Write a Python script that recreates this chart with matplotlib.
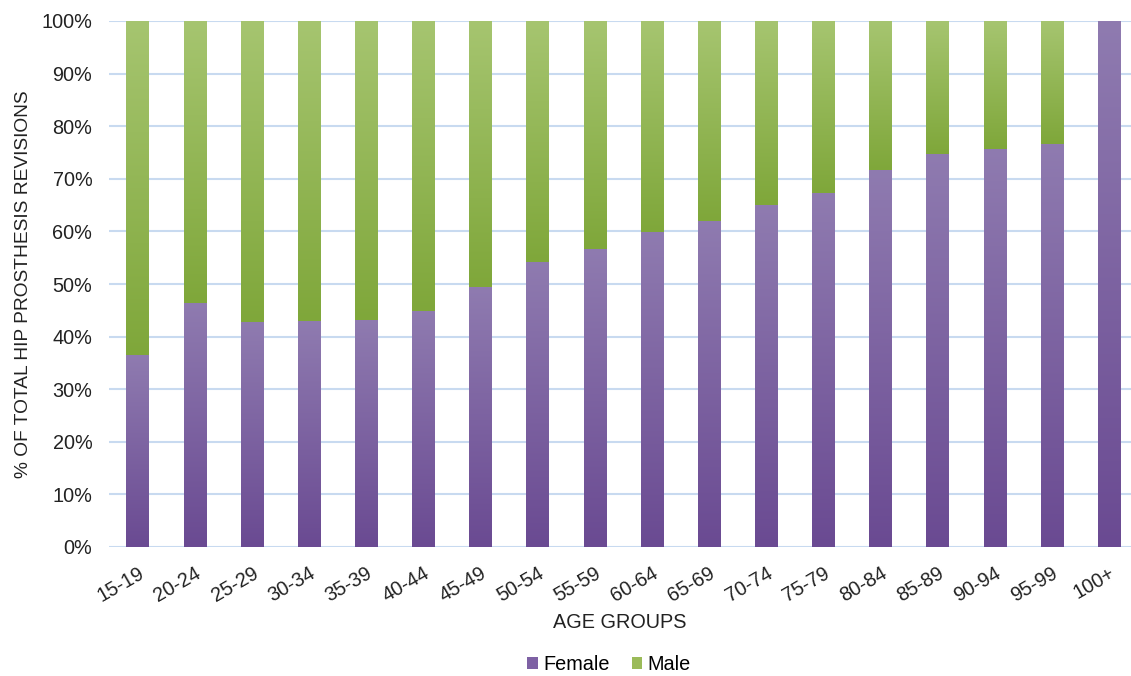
import matplotlib
matplotlib.use('Agg')
import matplotlib.pyplot as plt
import numpy as np
from matplotlib.colors import LinearSegmentedColormap
from matplotlib.patches import Patch

plt.rcParams['font.family'] = ['Liberation Sans', 'DejaVu Sans']

age_groups = ["15-19", "20-24", "25-29", "30-34", "35-39", "40-44", "45-49", "50-54",
              "55-59", "60-64", "65-69", "70-74", "75-79", "80-84", "85-89", "90-94",
              "95-99", "100+"]
female = [36.5, 46.4, 42.7, 42.9, 43.2, 44.9, 49.4, 54.2, 56.7, 59.9, 62.0, 65.0,
          67.3, 71.7, 74.8, 75.7, 76.6, 100.0]
male = [100 - f for f in female]

fig = plt.figure(figsize=(11.31, 6.76), dpi=100)
ax = fig.add_axes([109 / 1131, 1 - 547 / 676, 1028.5 / 1131, 526 / 676])

x = np.arange(len(age_groups))
width = 0.39

purple_cmap = LinearSegmentedColormap.from_list('fem', ['#6a4a92', '#8f7bb0'])
green_cmap = LinearSegmentedColormap.from_list('mal', ['#7fa73a', '#a6c570'])
grad = np.linspace(0, 1, 256).reshape(-1, 1)


def gradient_bars(bars, cmap):
    for b in bars:
        h = b.get_height()
        if h <= 0:
            continue
        b.set_facecolor('none')
        b.set_edgecolor('none')
        x0, y0 = b.get_x(), b.get_y()
        im = ax.imshow(grad, cmap=cmap, origin='lower', aspect='auto',
                       extent=(x0, x0 + b.get_width(), y0, y0 + h), zorder=3)
        im.set_clip_path(b)


fb = ax.bar(x, female, width, label='Female', zorder=3)
mb = ax.bar(x, male, width, bottom=female, label='Male', zorder=3)
gradient_bars(fb, purple_cmap)
gradient_bars(mb, green_cmap)

fs = 14.3
ax.set_xlim(-0.5, len(age_groups) - 0.5)
ax.set_ylim(0, 100)
ax.set_yticks(np.arange(0, 101, 10))
ax.set_yticklabels([f'{v}%' for v in range(0, 101, 10)], fontsize=fs, color='#222222')
ax.set_xticks(x)
ax.set_xticklabels(age_groups, rotation=30, ha='right', rotation_mode='anchor',
                   fontsize=fs, color='#222222')
ax.tick_params(axis='y', length=0, pad=12)
ax.tick_params(axis='x', length=0, pad=12)

ax.grid(axis='y', color='#c8daf0', linewidth=1.5, zorder=0)
ax.set_axisbelow(True)
for s in ax.spines.values():
    s.set_visible(False)

ax.set_ylabel('% OF TOTAL HIP PROSTHESIS REVISIONS', fontsize=13.8, color='#222222')
ax.yaxis.set_label_coords(-0.075, 0.5)
fig.text(620 / 1131, 1 - 622 / 676, 'AGE GROUPS', ha='center', va='center',
         fontsize=fs, color='#222222')

handles = [Patch(facecolor='#7e61a4', label='Female'), Patch(facecolor='#9bbb59', label='Male')]
fig.legend(handles=handles, loc='center', bbox_to_anchor=(609 / 1131, 1 - 665 / 676),
           ncol=2, frameon=False, fontsize=fs, handlelength=0.55, handleheight=0.55,
           handletextpad=0.25, columnspacing=1.1)

fig.savefig('out.png', dpi=100, facecolor='white')
